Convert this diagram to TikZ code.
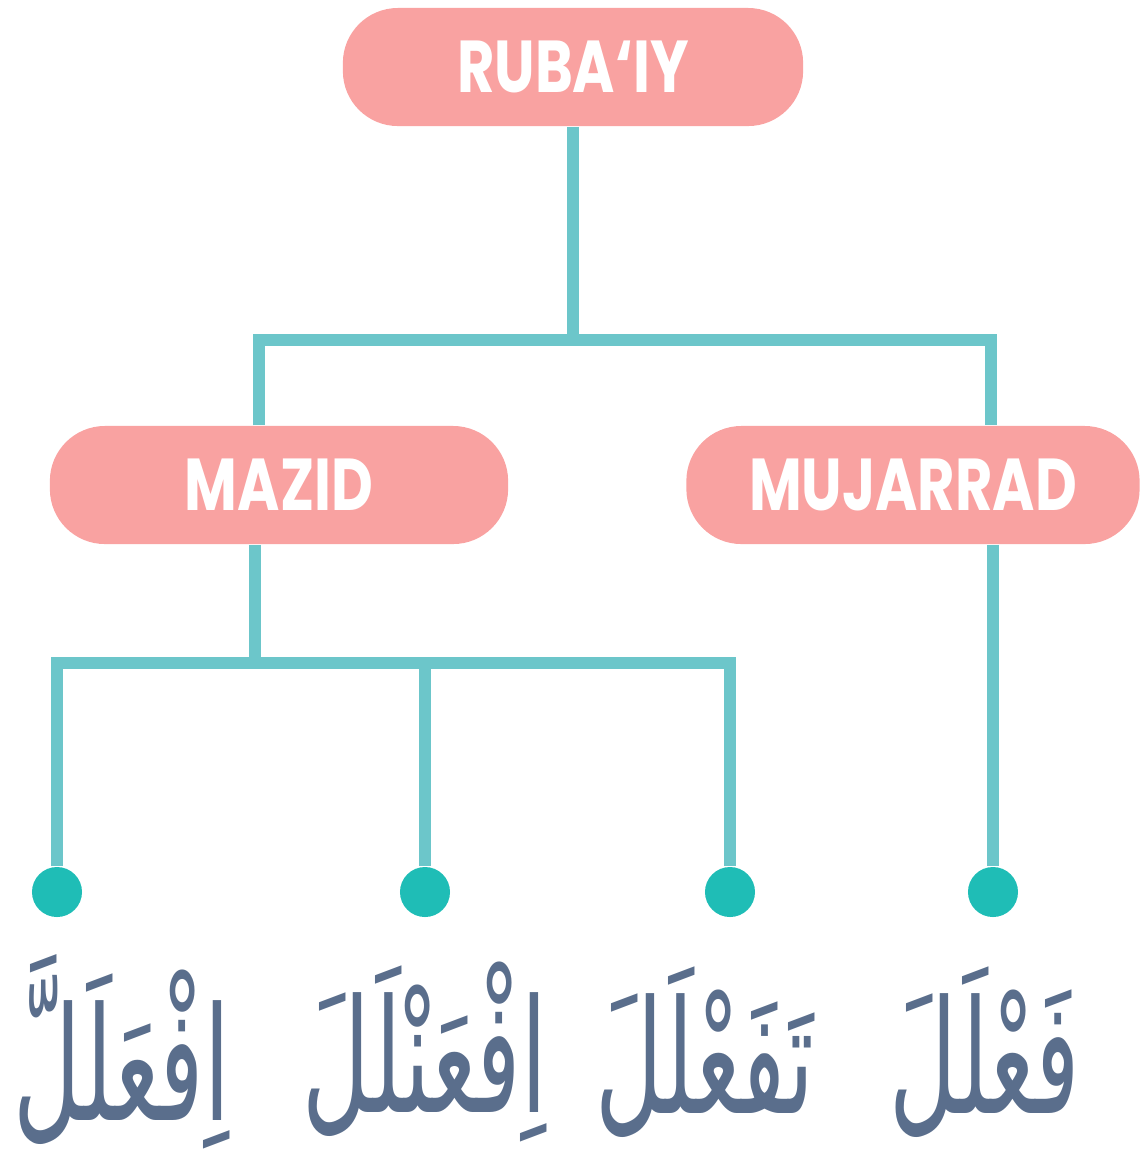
\documentclass[tikz,border=0pt]{standalone}
\usepackage{fontspec}
\setmainfont{Poppins}
\newfontfamily\arabicfont[Script=Arabic]{DejaVu Sans}
\TeXXeTstate=1
\usepackage{tikz}
\definecolor{boxpink}{RGB}{249,162,161}
\definecolor{linkteal}{RGB}{108,198,202}
\definecolor{dotteal}{RGB}{31,189,182}
\definecolor{wordslate}{RGB}{90,110,140}
\newcommand{\boxtext}[1]{\scalebox{0.86}[1.1]{#1}}
\newcommand{\arword}[1]{\scalebox{0.6}[1.02]{\beginR #1\endR}}
\tikzset{
  pill/.style={fill=boxpink, rounded corners=0.55cm, minimum height=1.18cm,
    text=white, font=\bfseries\fontsize{19}{19}\selectfont, inner sep=0pt},
  link/.style={draw=linkteal, line width=3.4pt},
  leaf/.style={circle, fill=dotteal, minimum size=0.5cm, inner sep=0pt},
  word/.style={text=wordslate, font=\arabicfont\fontsize{44}{50}\selectfont, inner sep=0pt}
}

\begin{document}
\begin{tikzpicture}[x=0.01cm, y=-0.01cm]
    \useasboundingbox (0,0) rectangle (1140,1150);

    % Boxes
    \node[pill, minimum width=4.6cm] (ruba) at (573,67) {\boxtext{RUBA‘IY}};
    \node[pill, minimum width=4.58cm] (mazid) at (279,485) {\boxtext{MAZID}};
    \node[pill, minimum width=4.53cm] (mujarrad) at (913,485) {\boxtext{MUJARRAD}};

    % Forks
    \coordinate (topfork) at (573,340);
    \coordinate (lfork) at (259,340);
    \coordinate (rfork) at (991,340);
    \coordinate (mfork) at (255,663);

    % Leaves
    \node[leaf] (d1) at (57,892) {};
    \node[leaf] (d2) at (425,892) {};
    \node[leaf] (d3) at (730,892) {};
    \node[leaf] (d4) at (993,892) {};

    % Links
    \draw[link] (ruba.south) -- (topfork);
    \draw[link] (lfork |- mazid.north) -- (lfork) -- (rfork) -- (rfork |- mujarrad.north);
    \draw[link] (mazid.south -| mfork) -- (mfork);
    \draw[link] (d1) |- (mfork) -| (d3);
    \draw[link] (d2) -- (d2 |- mfork);
    \draw[link] (mujarrad.south -| d4) -- (d4);

    % Words
    \node[word] (w1) at (122,1052) {\arword{اِفْعَلَلَّ}};
    \node[word] (w2) at (425,1052) {\arword{اِفْعَنْلَلَ}};
    \node[word] (w3) at (705,1052) {\arword{تَفَعْلَلَ}};
    \node[word] (w4) at (985,1052) {\arword{فَعْلَلَ}};
\end{tikzpicture}
\end{document}
